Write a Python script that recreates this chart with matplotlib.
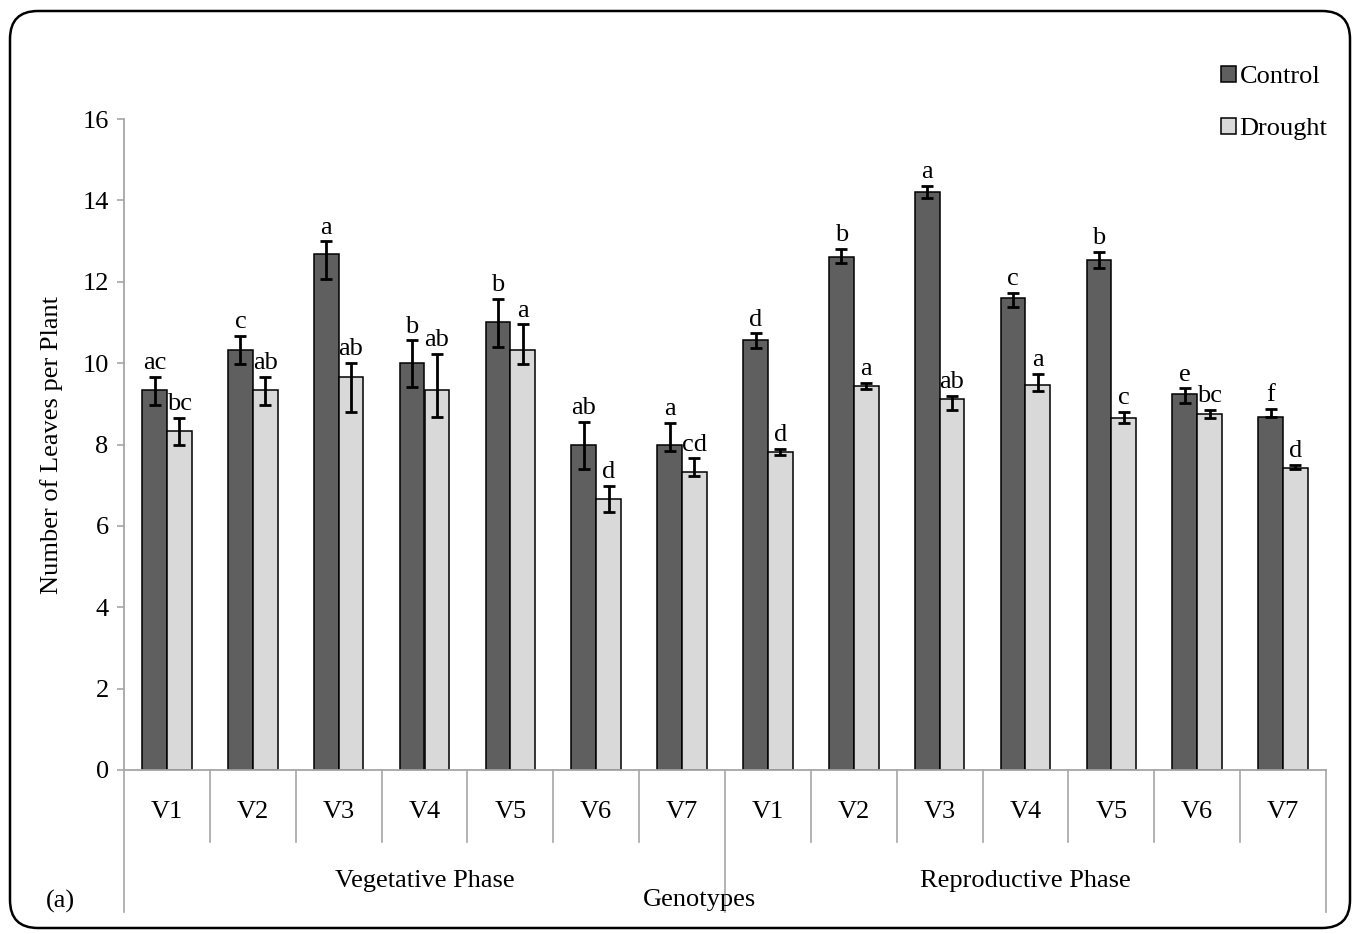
import matplotlib

matplotlib.use("Agg")
import matplotlib.pyplot as plt
import matplotlib.transforms as mtransforms
from matplotlib.patches import FancyBboxPatch, Patch
import numpy as np

plt.rcParams["font.family"] = ["Liberation Serif", "DejaVu Serif"]

genotypes = ["V1", "V2", "V3", "V4", "V5", "V6", "V7"]
phases = ["Vegetative Phase", "Reproductive Phase"]

control_veg = [9.33, 10.33, 12.67, 10.0, 11.0, 8.0, 8.0]
drought_veg = [8.33, 9.33, 9.67, 9.33, 10.33, 6.67, 7.33]
control_rep = [10.57, 12.6, 14.2, 11.6, 12.53, 9.23, 8.67]
drought_rep = [7.82, 9.44, 9.13, 9.47, 8.66, 8.74, 7.42]

control_veg_up = [0.33, 0.33, 0.32, 0.56, 0.57, 0.56, 0.54]
control_veg_dn = [0.37, 0.34, 0.61, 0.59, 0.60, 0.59, 0.17]
drought_veg_up = [0.32, 0.33, 0.33, 0.89, 0.62, 0.32, 0.33]
drought_veg_dn = [0.35, 0.37, 0.88, 0.66, 0.34, 0.33, 0.10]
control_rep_up = [0.16, 0.20, 0.15, 0.13, 0.20, 0.15, 0.20]
control_rep_dn = [0.19, 0.13, 0.14, 0.21, 0.18, 0.22, 0.0]
drought_rep_up = [0.07, 0.08, 0.07, 0.26, 0.14, 0.12, 0.08]
drought_rep_dn = [0.07, 0.08, 0.28, 0.16, 0.14, 0.08, 0.02]

control_veg_letters = ["ac", "c", "a", "b", "b", "ab", "a"]
drought_veg_letters = ["bc", "ab", "ab", "ab", "a", "d", "cd"]
control_rep_letters = ["d", "b", "a", "c", "b", "e", "f"]
drought_rep_letters = ["d", "a", "ab", "a", "c", "bc", "d"]

control = control_veg + control_rep
drought = drought_veg + drought_rep
control_err = [control_veg_dn + control_rep_dn, control_veg_up + control_rep_up]
drought_err = [drought_veg_dn + drought_rep_dn, drought_veg_up + drought_rep_up]
control_letters = control_veg_letters + control_rep_letters
drought_letters = drought_veg_letters + drought_rep_letters
tick_labels = genotypes + genotypes

FS = 19
grey = "#a6a6a6"

fig = plt.figure(figsize=(13.55, 9.34), dpi=100)
ax = fig.add_axes([124 / 1355, 164 / 934, 1202 / 1355, 651 / 934])

x = np.arange(len(control))
w = 0.288
err_kw = dict(ecolor="black", elinewidth=2.0, capsize=4.5, capthick=2.0)
ax.bar(x - w / 2, control, w, color="#5f5f5f", edgecolor="black", linewidth=1.1,
       yerr=control_err, error_kw=err_kw, label="Control", zorder=2)
ax.bar(x + w / 2, drought, w, color="#d9d9d9", edgecolor="black", linewidth=1.1,
       yerr=drought_err, error_kw=err_kw, label="Drought", zorder=2)

for i in range(len(x)):
    ax.annotate(control_letters[i], (x[i] - w / 2, control[i] + control_err[1][i]),
                xytext=(0, 2), textcoords="offset points", ha="center", va="bottom",
                fontsize=FS)
    ax.annotate(drought_letters[i], (x[i] + w / 2, drought[i] + drought_err[1][i]),
                xytext=(0, 2), textcoords="offset points", ha="center", va="bottom",
                fontsize=FS)

ax.set_xlim(-0.5, len(x) - 0.5)
ax.set_ylim(0, 16)
ax.set_yticks(range(0, 17, 2))
ax.tick_params(axis="y", direction="out", length=5, width=1.2, color=grey,
               labelsize=FS, pad=6)
ax.set_xticks([])
for side in ["top", "right"]:
    ax.spines[side].set_visible(False)
for side in ["left", "bottom"]:
    ax.spines[side].set_color(grey)
    ax.spines[side].set_linewidth(1.3)
ax.set_ylabel("Number of Leaves per Plant", fontsize=FS, labelpad=14)

# hierarchical category axis
trans = mtransforms.blended_transform_factory(ax.transData, ax.transAxes)
for i, lab in enumerate(tick_labels):
    ax.text(x[i], -0.0645, lab, transform=trans, ha="center", va="center", fontsize=FS)
n = len(genotypes)
for k in range(len(x) + 1):
    bottom = -0.218 if k % n == 0 else -0.1106
    ax.plot([k - 0.5, k - 0.5], [0, bottom], transform=trans, color=grey,
            lw=1.2, clip_on=False)
for g, ph in enumerate(phases):
    ax.text(g * n + (n - 1) / 2, -0.1705, ph, transform=trans, ha="center",
            va="center", fontsize=FS)
fig.text(700 / 1355, 1 - 900 / 934, "Genotypes", ha="center", va="center", fontsize=FS)
fig.text(60 / 1355, 1 - 901 / 934, "(a)", ha="center", va="center", fontsize=FS)

handles = [Patch(facecolor="#5f5f5f", edgecolor="black", linewidth=1.1),
           Patch(facecolor="#d9d9d9", edgecolor="black", linewidth=1.1)]
fig.legend(handles, ["Control", "Drought"], loc="upper left",
           bbox_to_anchor=(1221 / 1355, 1 - 66 / 934), frameon=False, fontsize=FS,
           handlelength=0.55, handleheight=0.55, handletextpad=0.15, labelspacing=1.12,
           borderaxespad=0, borderpad=0)

frame = FancyBboxPatch((0.1, 0.06), 13.4, 9.17, boxstyle="round,pad=0,rounding_size=0.28",
                       transform=fig.dpi_scale_trans, facecolor="none", edgecolor="black",
                       linewidth=1.8, zorder=10)
fig.patches.append(frame)

plt.savefig("out.png", dpi=100)
plt.close()
